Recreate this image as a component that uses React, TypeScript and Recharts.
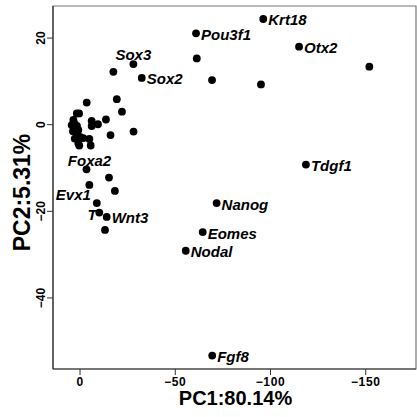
import React from 'react';
import { ScatterChart, Scatter, XAxis, YAxis, ReferenceArea } from 'recharts';

const genes = [
  'Krt18', 'Pou3f1', 'Otx2', '', '', '', '', 'Tdgf1', 'Nanog', 'Eomes', 'Nodal', 'Fgf8',
  'Sox3', 'Sox2', '', '', '', '', '', '', '', '', '', '', '', '', '', '',
  'Foxa2', '', 'Evx1', '', '', 'T', 'Wnt3', '',
  '', '', '', '', '', '', '', '', '', '', '', '', '',
];
const pc1 = [
  -96.2, -60.9, -115.0, -151.9, -61.3, -69.3, -95.0, -118.6, -71.7, -64.4, -55.5, -69.4,
  -28.0, -32.4, -17.5, -19.3, -22.0, -3.5, 0.5, -13.6, -6.1, -9.4, -6.1, -16.0, -28.1, -4.9, 0.4, -5.6,
  -3.4, -15.2, -4.9, -18.3, -8.8, -10.1, -14.0, -13.1,
  1.7, 3.5, 4.4, 3.1, 2.6, 0.9, 1.7, 0.0, -1.7, 0.9, 3.7, 1.6, 2.8,
];
const pc2 = [
  24.4, 21.1, 18.0, 13.4, 15.3, 10.3, 9.3, -9.2, -18.1, -24.8, -29.1, -53.3,
  14.0, 10.8, 12.2, 5.9, 3.0, 5.1, 2.6, 1.2, 0.9, 0.1, -0.3, -2.4, -1.6, -3.3, -4.8, -4.8,
  -10.3, -12.2, -13.9, -15.3, -18.1, -20.3, -21.3, -24.3,
  2.6, 1.1, -0.1, 0.4, -0.8, -1.2, -2.4, -2.8, -3.1, -4.3, -1.5, -0.3, -3.2,
];
const xTicks = [0, -50, -100, -150];
const yTicks = [20, 0, -20, -40];
const xDomain: [number, number] = [-176.4, 14.2];
const yDomain: [number, number] = [-56.4, 27.4];
const xTitle = 'PC1:80.14%';
const yTitle = 'PC2:5.31%';

const data = pc1.map((x, i) => ({ x, y: pc2[i], gene: genes[i] }));

const FONT = '"Liberation Sans", Arial, sans-serif';

const labelPlacement = (g: string) => {
  switch (g) {
    case 'Sox3':
      return { anchor: 'middle', dx: 0, dy: -4.5 };
    case 'Foxa2':
      return { anchor: 'middle', dx: 3, dy: -3 };
    case 'Evx1':
      return { anchor: 'end', dx: 1.5, dy: 15 };
    case 'T':
      return { anchor: 'end', dx: -2.5, dy: 7 };
    default:
      return { anchor: 'start', dx: 5, dy: 6.5 };
  }
};

const DotShape = (props: any) => {
  const { cx, cy } = props;
  return <circle cx={cx} cy={cy} r={3.9} fill="#000" />;
};

const LabelShape = (props: any) => {
  const { cx, cy, payload } = props;
  const g = payload?.gene;
  if (!g) return <g />;
  const p = labelPlacement(g);
  return (
    <text
      x={cx + p.dx}
      y={cy + p.dy}
      textAnchor={p.anchor as any}
      fontFamily={FONT}
      fontWeight="bold"
      fontStyle="italic"
      fontSize={15}
      fill="#000"
    >
      {g}
    </text>
  );
};

const fmt = (v: number) => (v < 0 ? '\u2212' + Math.abs(v) : String(v));

const YTick = (props: any) => {
  const { x, y, payload } = props;
  return (
    <text
      x={x}
      y={y}
      transform={`rotate(-90, ${x}, ${y})`}
      textAnchor="middle"
      fontFamily={FONT}
      fontWeight="bold"
      fontSize={12}
      fill="#000"
    >
      {fmt(payload.value)}
    </text>
  );
};

const XTick = (props: any) => {
  const { x, y, payload } = props;
  return (
    <text
      x={x}
      y={y}
      dy="0.71em"
      textAnchor="middle"
      fontFamily={FONT}
      fontWeight="bold"
      fontSize={12}
      letterSpacing={0.6}
      fill="#000"
    >
      {fmt(payload.value)}
    </text>
  );
};

const XTitle = (props: any) => {
  const vb = props.viewBox;
  return (
    <text
      x={vb.x + vb.width / 2 + 1}
      y={vb.y + 36}
      textAnchor="middle"
      fontFamily={FONT}
      fontWeight="bold"
      fontSize={20}
      fill="#000"
    >
      {xTitle}
    </text>
  );
};

const YTitle = (props: any) => {
  const vb = props.viewBox;
  const x = vb.x + 30;
  const y = vb.y + vb.height / 2 + 5;
  return (
    <text
      x={x}
      y={y}
      transform={`rotate(-90, ${x}, ${y})`}
      textAnchor="middle"
      fontFamily={FONT}
      fontWeight="bold"
      fontSize={23}
      fill="#000"
    >
      {yTitle}
    </text>
  );
};

export default function App() {
  return (
    <div style={{ position: 'absolute', left: 0, top: 0, background: '#fff' }}>
      <ScatterChart width={417} height={417} margin={{ top: 6, right: 1, bottom: 0, left: 0 }}>
        <XAxis
          type="number"
          dataKey="x"
          domain={xDomain}
          reversed
          allowDataOverflow
          ticks={xTicks}
          height={48}
          tickSize={6}
          tickLine={{ stroke: '#333', strokeWidth: 1 }}
          axisLine={{ stroke: '#333', strokeWidth: 1.2 }}
          tick={<XTick />}
          label={<XTitle />}
        />
        <YAxis
          type="number"
          dataKey="y"
          domain={yDomain}
          allowDataOverflow
          ticks={yTicks}
          width={53}
          tickSize={6}
          tickLine={{ stroke: '#333', strokeWidth: 1 }}
          axisLine={{ stroke: '#333', strokeWidth: 1.2 }}
          tick={<YTick />}
          label={<YTitle />}
        />
        <ReferenceArea
          x1={xDomain[0]}
          x2={xDomain[1]}
          y1={yDomain[0]}
          y2={yDomain[1]}
          fill="none"
          stroke="#777"
          strokeWidth={1.2}
          ifOverflow="visible"
        />
        <Scatter data={data} shape={<DotShape />} isAnimationActive={false} />
        <Scatter data={data} shape={<LabelShape />} isAnimationActive={false} />
      </ScatterChart>
    </div>
  );
}
